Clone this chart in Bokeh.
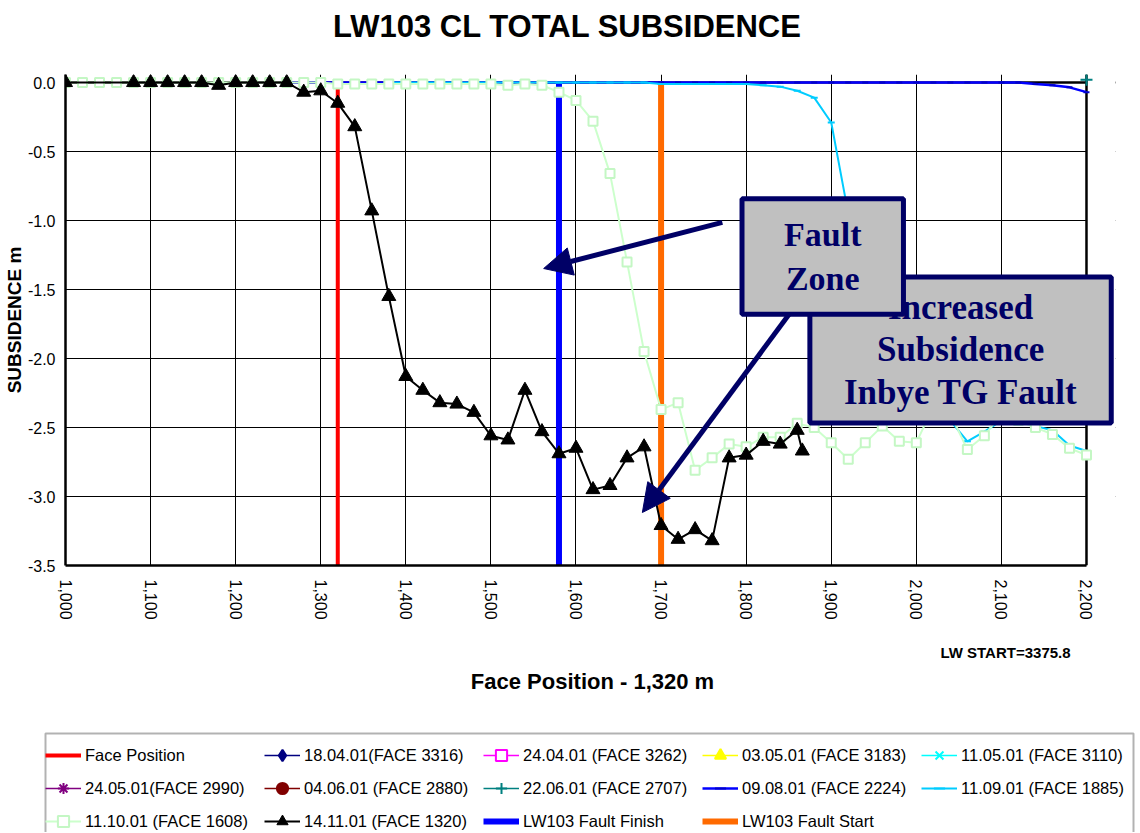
import math
from bokeh.plotting import figure
from bokeh.layouts import column
from bokeh.models import (Range1d, FixedTicker, NumeralTickFormatter, PrintfTickFormatter,
                          Legend, LegendItem, Label, Arrow, NormalHead, Span, BoxAnnotation)
from bokeh.embed import file_html
from bokeh.resources import INLINE

# ---------------- data ----------------
x_ticks = [1000, 1100, 1200, 1300, 1400, 1500, 1600, 1700, 1800, 1900, 2000, 2100, 2200]
y_ticks = [0.0, -0.5, -1.0, -1.5, -2.0, -2.5, -3.0, -3.5]

face_x = [1320, 1320]
fault_finish_x = [1580, 1580]
fault_start_x = [1700, 1700]
vline_y = [-3.5, 0.0]

# 14.11.01 (FACE 1320)
s1411_x = [1000, 1080, 1100, 1120, 1140, 1160, 1180, 1200, 1220, 1240, 1260, 1280, 1300, 1320,
           1340, 1360, 1380, 1400, 1420, 1440, 1460, 1480, 1500, 1520, 1540, 1560, 1580, 1600,
           1620, 1640, 1660, 1680, 1700, 1720, 1740, 1760, 1780, 1800, 1820, 1840, 1860, 1866]
s1411_y = [0.0, 0.0, 0.0, 0.0, 0.0, 0.0, -0.02, 0.0, 0.0, 0.0, 0.0, -0.07, -0.06, -0.15,
           -0.32, -0.93, -1.55, -2.13, -2.23, -2.32, -2.33, -2.39, -2.56, -2.59, -2.23, -2.53, -2.69, -2.65,
           -2.95, -2.92, -2.72, -2.64, -3.21, -3.31, -3.24, -3.32, -2.72, -2.70, -2.60, -2.62, -2.52, -2.67]

# 11.10.01 (FACE 1608)
s1110_x = [1000, 1020, 1040, 1060, 1080, 1100, 1120, 1140, 1160, 1180, 1200, 1220, 1240, 1260,
           1280, 1300, 1320, 1340, 1360, 1380, 1400, 1420, 1440, 1460, 1480, 1500, 1520, 1540,
           1560, 1580, 1600, 1620, 1640, 1660, 1680, 1700, 1720, 1740, 1760, 1780, 1800, 1820,
           1840, 1860, 1880, 1900, 1920, 1940, 1960, 1980, 2000, 2020, 2040, 2060, 2080, 2100,
           2120, 2140, 2160, 2180, 2200]
s1110_y = [0.0, 0.0, 0.0, 0.0, 0.0, 0.0, 0.0, 0.0, 0.0, 0.0, 0.0, 0.0, 0.0, 0.0,
           0.0, 0.0, -0.01, -0.01, -0.01, -0.01, -0.01, -0.01, -0.01, -0.01, -0.01, -0.01, -0.02, -0.01,
           -0.02, -0.07, -0.13, -0.28, -0.66, -1.30, -1.95, -2.37, -2.32, -2.81, -2.72, -2.62, -2.64, -2.57,
           -2.57, -2.47, -2.50, -2.61, -2.73, -2.61, -2.49, -2.60, -2.61, -2.35, -2.40, -2.66, -2.56, -2.40,
           -2.45, -2.50, -2.55, -2.65, -2.70]

# 11.09.01 (FACE 1885)
s1109_x = [1380, 1400, 1420, 1440, 1460, 1480, 1500, 1520, 1540, 1560, 1580, 1600, 1620, 1640,
           1660, 1680, 1700, 1720, 1740, 1760, 1780, 1800, 1820, 1840, 1860, 1880, 1900, 1920,
           1940, 1960, 1980, 2000, 2020, 2040, 2060, 2080, 2100, 2120, 2140, 2160, 2180, 2200]
s1109_y = [0.0, 0.0, 0.0, 0.0, 0.0, 0.0, 0.0, 0.0, 0.0, 0.0, 0.0, 0.0, 0.0, 0.0,
           0.0, 0.0, -0.01, -0.01, -0.01, -0.01, -0.01, -0.01, -0.02, -0.03, -0.06, -0.11, -0.29, -0.95,
           -1.60, -2.05, -2.25, -2.35, -2.40, -2.45, -2.60, -2.53, -2.45, -2.45, -2.49, -2.52, -2.63, -2.67]

# 09.08.01 (FACE 2224)
s0908_x = [1260, 1280, 1300, 1320, 1340, 1360, 1380, 1400, 1420, 1440, 1460, 1480, 1500, 1520,
           1540, 1560, 1580, 1600, 1620, 1640, 1660, 1680, 1700, 1720, 1740, 1760, 1780, 1800,
           1820, 1840, 1860, 1880, 1900, 1920, 1940, 1960, 1980, 2000, 2020, 2040, 2060, 2080,
           2100, 2120, 2140, 2160, 2180, 2200]
s0908_y = [0.0, 0.0, 0.0, 0.0, 0.0, 0.0, 0.0, 0.0, 0.0, 0.0, 0.0, 0.0, 0.0, 0.0,
           0.0, 0.0, 0.0, 0.0, 0.0, 0.0, 0.0, 0.0, 0.0, 0.0, 0.0, 0.0, 0.0, 0.0,
           0.0, 0.0, 0.0, 0.0, 0.0, 0.0, 0.0, 0.0, 0.0, 0.0, 0.0, 0.0, 0.0, 0.0,
           0.0, 0.0, -0.01, -0.02, -0.035, -0.07]

# 22.06.01 (FACE 2707)
s2206_x = [2200]
s2206_y = [0.02]

# earlier surveys, lying on the zero line beneath the later surveys
early_x = [1260, 2100]
early_y = [0.0, 0.0]
early_labels = ["18.04.01(FACE 3316)", "24.04.01 (FACE 3262)", "03.05.01 (FACE 3183)",
                "11.05.01 (FACE 3110)", "24.05.01(FACE 2990)", "04.06.01 (FACE 2880)"]

# ---------------- styles ----------------
SANS = "Liberation Sans"
SERIF = "Liberation Serif"
NAVY = "#000066"

early_styles = [
    dict(color="#000080", marker="diamond", size=11, fill="#000080"),
    dict(color="#ff00ff", marker="square", size=8, fill="white"),
    dict(color="#ffff00", marker="triangle", size=11, fill="#ffff00"),
    dict(color="#00ffff", marker="x", size=11, fill="#00ffff"),
    dict(color="#800080", marker="asterisk", size=11, fill="#800080"),
    dict(color="#800000", marker="circle", size=8, fill="#800000"),
]


def add_series(fig, with_early_markers):
    """Draw every series into fig; return its renderers grouped for the legend."""
    out = {}
    out["face"] = [fig.line(face_x, vline_y, line_color="#ff0000", line_width=4)]
    out["ffin"] = [fig.line(fault_finish_x, vline_y, line_color="#0000ff", line_width=6)]
    out["fst"] = [fig.line(fault_start_x, vline_y, line_color="#ff6a00", line_width=6)]
    early = []
    for st in early_styles:
        rr = [fig.line(early_x, early_y, line_color=st["color"], line_width=1.5)]
        if with_early_markers:
            rr.append(fig.scatter(early_x, early_y, marker=st["marker"], size=st["size"],
                                  line_color=st["color"], fill_color=st["fill"], line_width=2))
        early.append(rr)
    out["early"] = early
    out["2206"] = [fig.line(s2206_x, s2206_y, line_color="#008080", line_width=1.5),
                   fig.scatter(s2206_x, s2206_y, marker="cross", size=12, line_color="#008080", line_width=2)]
    out["0908"] = [fig.line(s0908_x, s0908_y, line_color="#0000ff", line_width=2.5),
                   fig.scatter(s0908_x, s0908_y, marker="dash", size=6, line_color="#0000cc", line_width=2)]
    out["1109"] = [fig.line(s1109_x, s1109_y, line_color="#00ccff", line_width=2),
                   fig.scatter(s1109_x, s1109_y, marker="dash", size=7, line_color="#00ccff", line_width=2)]
    out["1110"] = [fig.line(s1110_x, s1110_y, line_color="#ccffcc", line_width=2),
                   fig.scatter(s1110_x, s1110_y, marker="square", size=9, line_color="#c4f7c4",
                               fill_color="white", line_width=2)]
    out["1411"] = [fig.line(s1411_x, s1411_y, line_color="black", line_width=2),
                   fig.scatter(s1411_x, s1411_y, marker="triangle", size=14, line_color="black",
                               fill_color="black")]
    return out


# ---------------- title strip ----------------
tf = figure(width=1140, height=74, output_backend="svg", toolbar_location=None,
            x_range=Range1d(0, 1), y_range=Range1d(0, 1), x_axis_type=None, y_axis_type=None,
            min_border=0, frame_align=False,
            background_fill_color="white", border_fill_color="white")
tf.outline_line_color = None
tf.add_layout(Label(x=567, y=48, x_units="screen", y_units="screen", text="LW103 CL TOTAL SUBSIDENCE",
                    text_font=SANS, text_font_style="bold", text_font_size="31px",
                    text_align="center", text_baseline="middle", text_color="black"))

# ---------------- main chart ----------------
p = figure(width=1140, height=566, output_backend="svg", toolbar_location=None,
           x_range=Range1d(1000, 2234.1), y_range=Range1d(-3.5, 0.058),
           min_border_left=65, min_border_right=25, min_border_top=0, min_border_bottom=75,
           frame_align=False,
           background_fill_color="white", border_fill_color="white")
p.outline_line_color = None

p.xaxis.ticker = FixedTicker(ticks=x_ticks)
p.yaxis.ticker = FixedTicker(ticks=y_ticks)
p.xaxis.formatter = NumeralTickFormatter(format="0,0")
p.yaxis.formatter = PrintfTickFormatter(format="%.1f")
p.xaxis.major_label_orientation = -math.pi / 2
p.xaxis.bounds = (1000, 2200)
for ax in (p.xaxis, p.yaxis):
    ax.axis_line_width = 2.5
    ax.axis_line_color = "black"
    ax.major_tick_line_color = None
    ax.minor_tick_line_color = None
    ax.major_label_text_font = SANS
    ax.major_label_text_font_size = "16px"
    ax.major_label_text_color = "black"
p.xaxis.major_label_standoff = 8
p.yaxis.major_label_standoff = 4
p.yaxis.axis_label = "SUBSIDENCE m"
p.yaxis.axis_label_text_font = SANS
p.yaxis.axis_label_text_font_style = "bold"
p.yaxis.axis_label_text_font_size = "19px"
p.yaxis.axis_label_text_color = "black"
p.yaxis.axis_label_standoff = 0

p.grid.grid_line_color = "black"
p.grid.grid_line_width = 1
p.grid.grid_line_alpha = 1.0

p.add_layout(Span(location=0, dimension="width", line_color="black", line_width=2.5, level="underlay"))
p.add_layout(BoxAnnotation(left=2200, fill_color="white", fill_alpha=1.0, line_color=None, level="underlay"))
p.add_layout(Span(location=2200, dimension="height", line_color="black", line_width=2.5, level="underlay"))

add_series(p, with_early_markers=False)

# arrows
p.add_layout(Arrow(end=NormalHead(size=28, fill_color=NAVY, line_color=NAVY),
                   x_start=1772, y_start=-1.014, x_end=1562, y_end=-1.348,
                   line_color=NAVY, line_width=5))
p.add_layout(Arrow(end=NormalHead(size=28, fill_color=NAVY, line_color=NAVY),
                   x_start=1852, y_start=-1.667, x_end=1678, y_end=-3.116,
                   line_color=NAVY, line_width=5))

# callout boxes
p.add_layout(Label(x=2052, y=-1.938, text="Increased\nSubsidence\nInbye TG Fault",
                   text_font=SERIF, text_font_style="bold", text_font_size="35px",
                   text_line_height=1.09,
                   text_color=NAVY, text_align="center", text_baseline="middle",
                   background_fill_color="#c0c0c0", border_line_color=NAVY, border_line_width=5,
                   padding=(34, 11)))
p.add_layout(Label(x=1890, y=-1.261, text="Fault\nZone",
                   text_font=SERIF, text_font_style="bold", text_font_size="34px",
                   text_color=NAVY, text_align="center", text_baseline="middle",
                   background_fill_color="#c0c0c0", border_line_color=NAVY, border_line_width=5,
                   padding=(42, 17)))

# ---------------- bottom strip: axis title, note and legend ----------------
lf = figure(width=1140, height=192, output_backend="svg", toolbar_location=None,
            x_range=Range1d(0, 1), y_range=Range1d(0, 1), x_axis_type=None, y_axis_type=None,
            min_border=0, frame_align=False,
            background_fill_color="white", border_fill_color="white")
lf.outline_line_color = None

lf.add_layout(Label(x=1005, y=180, x_units="screen", y_units="screen", text="LW START=3375.8",
                    text_font=SANS, text_font_style="bold", text_font_size="15px",
                    text_align="center", text_baseline="middle", text_color="black"))
lf.add_layout(Label(x=592, y=151, x_units="screen", y_units="screen", text="Face Position - 1,320 m",
                    text_font=SANS, text_font_style="bold", text_font_size="22px",
                    text_align="center", text_baseline="middle", text_color="black"))

# the legend's renderers hold the same data; their marks fall outside this strip's ranges
lr = add_series(lf, with_early_markers=True)
items = [LegendItem(label="Face Position", renderers=lr["face"])]
for lab, rr in zip(early_labels, lr["early"]):
    items.append(LegendItem(label=lab, renderers=rr))
items.append(LegendItem(label="22.06.01 (FACE 2707)", renderers=lr["2206"]))
items.append(LegendItem(label="09.08.01 (FACE 2224)", renderers=lr["0908"]))
items.append(LegendItem(label="11.09.01 (FACE 1885)", renderers=lr["1109"]))
items.append(LegendItem(label="11.10.01 (FACE 1608)", renderers=lr["1110"]))
items.append(LegendItem(label="14.11.01 (FACE 1320)", renderers=lr["1411"]))
items.append(LegendItem(label="LW103 Fault Finish", renderers=lr["ffin"]))
items.append(LegendItem(label="LW103 Fault Start", renderers=lr["fst"]))

legend = Legend(items=items, orientation="horizontal", ncols=5, location=(45, -3),
                border_line_color=None, background_fill_alpha=0.0,
                label_text_font=SANS, label_text_font_size="16.5px",
                label_text_color="black", glyph_width=36, glyph_height=28, label_height=20,
                label_width=174, label_standoff=4, spacing=5, padding=3, margin=0)
lf.add_layout(legend)
# legend frame (its lower edge lies below the page edge, as in the original)
lf.add_layout(BoxAnnotation(left=45, right=1133, top=99, bottom=-10,
                            left_units="screen", right_units="screen",
                            top_units="screen", bottom_units="screen",
                            fill_alpha=0.0, line_color="black", line_width=2))

layout = column(tf, p, lf, spacing=0)
open("out.html", "w").write(file_html(layout, INLINE))
